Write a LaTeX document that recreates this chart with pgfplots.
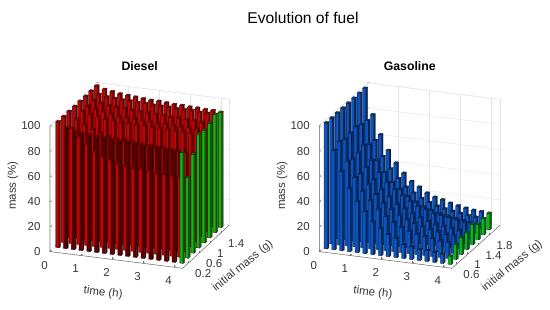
\documentclass[border=0pt]{standalone}
\usepackage{fontspec}
\setmainfont{Liberation Sans}
\usepackage{pgfplots}
\usepackage{pgfplotstable}
\pgfplotsset{compat=1.18}
\definecolor{rf}{RGB}{188,6,6}\definecolor{rs}{RGB}{95,0,0}\definecolor{rt}{RGB}{140,8,8}
\definecolor{df}{RGB}{90,0,0}\definecolor{ds}{RGB}{65,0,0}\definecolor{dt}{RGB}{140,8,8}
\definecolor{gf}{RGB}{5,185,15}\definecolor{gs}{RGB}{0,105,10}\definecolor{gt}{RGB}{0,135,10}
\definecolor{bf}{RGB}{12,85,190}\definecolor{bs}{RGB}{10,42,100}\definecolor{bt}{RGB}{10,55,130}
\definecolor{axc}{RGB}{110,110,110}\definecolor{txc}{RGB}{55,55,55}\definecolor{gridc}{RGB}{228,228,228}
% each row: mass, then mass (%) at the 17 times
\pgfplotstableread[header=false]{
1.6 100 98 97 96 95.5 95 94.5 94 94 93.5 93 93 92.5 92.5 92 92 91.5
1.4 100 98 97 96.5 96 96 95.5 95.5 95 95 95 94.5 94.5 94.5 94 94 94
1.2 100 97.5 96 95 94.5 94 93.5 93 93 92.5 92.5 92 92 91.5 91.5 91 91
1.0 100 97 95 94 93 92 92 91.5 91 91 90.5 90.5 90 90 90 89.5 89.5
0.8 100 97 95 94 93 92.5 92 92 91.5 91.5 91 91 91 90.5 90.5 90.5 90.5
0.6 100 95 91 88 85.5 84 83 82 81.5 81 80.5 80 80 79.5 79 79 78.5
0.2 100 96 94 93 92.5 92 92 91.5 91 91 90.5 90 90 89.5 89 89 88
0.4 100 91.4 85.5 80 75 72 70.3 68.5 66.7 66 65.7 65 64 64 63.7 63 64
}\dieselT
\pgfplotstableread[header=false]{
2.0 100 79.7 64.6 52.9 43.6 36.3 30.5 26.8 22.8 20.3 19 17.1 15.8 14.7 13.8 13.5 13
1.8 100 79 64 52 43 36 30 26 22.5 20 18 16.5 15.5 14.5 13.5 13 12.7
1.6 100 80 65 53 44 37 32 27 23.5 20.5 18.5 16.5 15.5 14.5 13.5 12.5 12
1.4 100 82 68 57 48 41 36 32 28 25 23 21 20 19 18 17 16
1.2 100 81 66 55 46 39 34 29 26 23 20.5 18.5 17 16 15 14 13.3
1.0 100 80 65 54 46 39 33 29 25 22 20 18 16.5 15.5 14.5 14 13.3
0.8 100 82 67 55 45 38 32 27 23 20 17.5 16 15 14 13 12.5 11.7
0.6 100 79 63 50.4 40.6 33.4 26 21.6 17.5 15.2 11.2 10 8.5 8.5 8 7.4 6.6
}\gasT
\newcommand\onebar[5]{% t, m, h, colour prefix
  \pgfmathsetmacro\xa{#1-0.052}\pgfmathsetmacro\xb{#1+0.052}%
  \pgfmathsetmacro\ya{#2-0.03}\pgfmathsetmacro\yb{#2+0.03}%
  \edef\temp{%
  \noexpand\addplot3[forget plot,fill=#4f,draw=#5,line width=0.3pt] coordinates {(\xa,\ya,0)(\xb,\ya,0)(\xb,\ya,#3)(\xa,\ya,#3)} --cycle;
  \noexpand\addplot3[forget plot,fill=#4s,draw=#5,line width=0.3pt] coordinates {(\xb,\ya,0)(\xb,\yb,0)(\xb,\yb,#3)(\xb,\ya,#3)} --cycle;
  \noexpand\addplot3[forget plot,fill=#4t,draw=#5,line width=0.3pt] coordinates {(\xa,\ya,#3)(\xb,\ya,#3)(\xb,\yb,#3)(\xa,\yb,#3)} --cycle;
  }\temp}
\newcommand\drawrow[7]{% table, row, body prefix, first prefix, edge, from, to
  \pgfplotstablegetelem{#2}{[index]0}\of#1\let\mm\pgfplotsretval
  \foreach \k/\t in {1/0.09,2/0.34,3/0.59,4/0.84,5/1.09,6/1.34,7/1.59,8/1.84,9/2.09,10/2.34,11/2.59,12/2.84,13/3.09,14/3.34,15/3.59,16/3.84,17/4.09}{%
    \pgfplotstablegetelem{#2}{[index]\k}\of#1\let\hh\pgfplotsretval
    \ifnum\k=17 \def\pp{g}\else\ifnum\k=1 \def\pp{#4}\else\def\pp{#3}\fi\fi
    \ifnum\k<#6 \else\ifnum\k>#7 \else\onebar{\t}{\mm}{\hh}{\pp}{#5}\fi\fi
  }}
\pgfplotsset{fuel/.style={
  x={(31pt,-3.9pt)},z={(0pt,1.257pt)},
  xmin=0,xmax=4.28,zmin=0,zmax=100,
  xtick={0,1,2,3,4},ztick={0,20,40,60,80,100},
  tick pos=left,
  grid=major,major grid style={gridc,line width=0.4pt},
  axis line style={gridc,line width=0.4pt},
  major tick style={axc,line width=0.4pt},major tick length=2pt,
  clip=false,
  /pgf/number format/assume math mode=true,
  tick label style={font=\fontsize{11.5}{13}\selectfont,text=txc},
  label style={font=\fontsize{11.5}{13}\selectfont,text=txc},
  title style={font=\fontsize{12.3}{14}\selectfont\bfseries,anchor=center},
  xticklabel style={anchor=center,xshift=-5.5pt,yshift=-13.5pt},
  yticklabel style={anchor=west,xshift=3.5pt,yshift=-10.5pt},
  zticklabel style={anchor=east,xshift=-6pt},
  xlabel={time (h)},ylabel={initial mass (g)},zlabel={mass (\%)},
  xlabel style={anchor=center,rotate=-7},
  ylabel style={anchor=center,rotate=39},
  zlabel style={anchor=center,rotate=0},
}}
\begin{document}
\begin{tikzpicture}[x=1pt,y=1pt]
\path[use as bounding box] (0,0) rectangle (550,309);
\node[font=\fontsize{15.6}{18}\selectfont] at (303,291) {Evolution of fuel};
\begin{axis}[fuel,at={(50pt,40.7pt)},anchor=south west,
  y={(27.5pt,25.5pt)},ymin=0,ymax=1.7,ytick={0.2,0.6,1,1.4},
  title={Diesel},title style={at={(axis description cs:0.5,1.057)}},
  xlabel style={at={(axis description cs:0.296,-0.132)}},
  zlabel style={at={(axis description cs:-0.207,0.445)}},
  ylabel style={at={(axis description cs:1.074,0.012)}}]
\addplot3[forget plot,draw=axc,line width=0.5pt] coordinates {(0,0,100)(0,0,0)(4.28,0,0)(4.28,1.7,0)};
\foreach \r in {0,1,2,3,4,5}{\drawrow{\dieselT}{\r}{r}{r}{rs!60!black}{1}{17}}
\drawrow{\dieselT}{6}{d}{r}{rs!60!black}{1}{16}
\drawrow{\dieselT}{7}{r}{r}{rs!60!black}{1}{17}
\drawrow{\dieselT}{6}{d}{r}{rs!60!black}{17}{17}
\end{axis}
\begin{axis}[fuel,at={(319.3pt,40.7pt)},anchor=south west,
  y={(27.6pt,24.7pt)},ymin=0.44,ymax=2.19,ytick={0.6,1,1.4,1.8},
  title={Gasoline},title style={at={(axis description cs:0.5,1.057)}},
  xlabel style={at={(axis description cs:0.296,-0.132)}},
  zlabel style={at={(axis description cs:-0.205,0.445)}},
  ylabel style={at={(axis description cs:1.065,0.012)}}]
\addplot3[forget plot,draw=axc,line width=0.5pt] coordinates {(0,0.44,100)(0,0.44,0)(4.28,0.44,0)(4.28,2.19,0)};
\foreach \r in {0,...,7}{\drawrow{\gasT}{\r}{b}{b}{bs!50!black}{1}{17}}
\end{axis}
\end{tikzpicture}
\end{document}
